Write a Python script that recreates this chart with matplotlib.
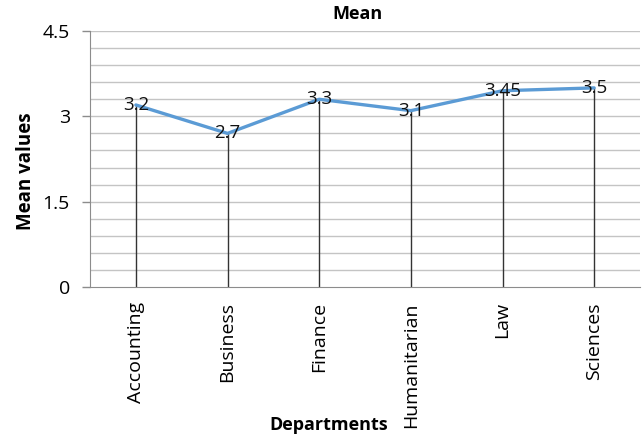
import numpy as np
import matplotlib.pyplot as plt

# =============================
# DATA
# =============================
departments = ["Accounting", "Business", "Finance", "Humanitarian", "Law", "Sciences"]
mean_values = [3.2, 2.7, 3.3, 3.1, 3.45, 3.5]
value_labels = ["3.2", "2.7", "3.3", "3.1", "3.45", "3.5"]

Y_MAX = 4.5
MAJOR_STEP = 1.5
MINOR_STEP = 0.3

LINE_COLOR = "#5B9BD5"
GRID_COLOR = "#C4C4C4"
AXIS_COLOR = "#8C8C8C"
FONT = ["Open Sans", "DejaVu Sans"]


def main():
    plt.rcParams["font.family"] = FONT

    fig = plt.figure(figsize=(6.44, 4.36), dpi=100)
    ax = fig.add_axes([0.1398, 0.3417, 0.8540, 0.5872])

    x = np.arange(len(departments))

    # horizontal grid every 0.3
    for yv in np.arange(MINOR_STEP, Y_MAX + 1e-9, MINOR_STEP):
        ax.axhline(yv, color=GRID_COLOR, linewidth=1.0, zorder=0)

    # drop lines from each point to the axis
    ax.vlines(x, 0, mean_values, color="#333333", linewidth=1.0, zorder=2)

    ax.plot(x, mean_values, color=LINE_COLOR, linewidth=2.4,
            solid_capstyle="round", zorder=3)

    for xi, yi, lbl in zip(x, mean_values, value_labels):
        ax.text(xi, yi, lbl, ha="center", va="center", fontsize=13.5,
                color="#111111", zorder=4)

    ax.set_xlim(-0.5, len(departments) - 0.5)
    ax.set_ylim(0, Y_MAX)

    ax.set_yticks(np.arange(0, Y_MAX + 1e-9, MAJOR_STEP))
    ax.set_yticklabels(["0", "1.5", "3", "4.5"], fontsize=14)
    ax.tick_params(axis="y", length=6, width=1, color=AXIS_COLOR, pad=8.5)

    ax.set_xticks(x)
    ax.set_xticklabels(departments, rotation=90, fontsize=14)
    ax.tick_params(axis="x", length=0, pad=11)

    for side in ("top", "right"):
        ax.spines[side].set_visible(False)
    ax.spines["left"].set_color(AXIS_COLOR)
    ax.spines["bottom"].set_color(AXIS_COLOR)

    fig.text(0.555, 0.968, "Mean", ha="center", va="center",
             fontsize=13, fontweight="bold")
    fig.text(0.040, 0.608, "Mean values", ha="center", va="center",
             rotation=90, fontsize=13.5, fontweight="bold")
    fig.text(0.510, 0.025, "Departments", ha="center", va="center",
             fontsize=13, fontweight="bold")

    fig.savefig("out.png", dpi=100, facecolor="white")
    plt.close(fig)


if __name__ == "__main__":
    main()
